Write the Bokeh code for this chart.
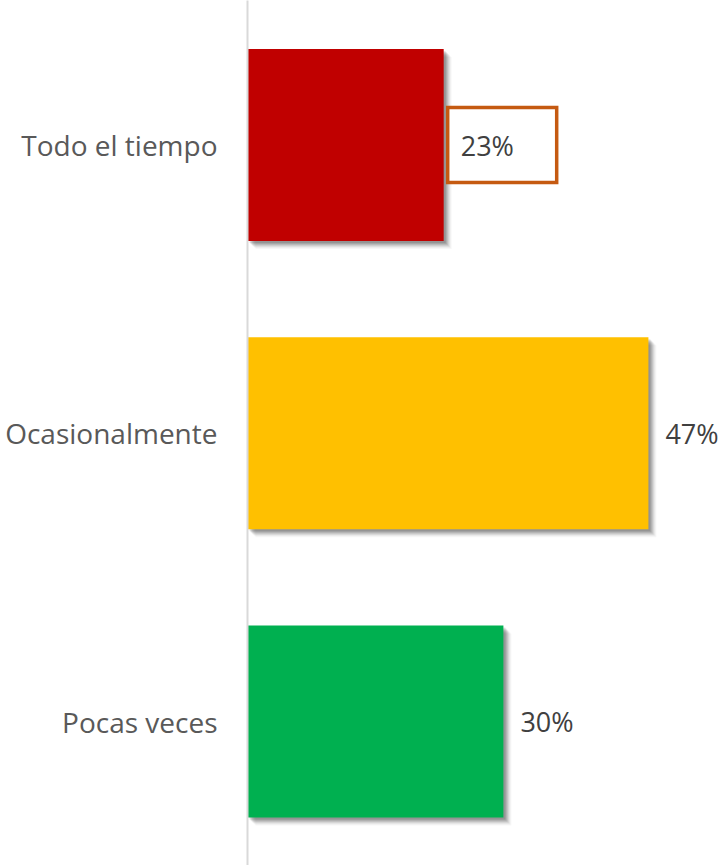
from bokeh.plotting import figure
from bokeh.models import FixedTicker, Range1d, ColumnDataSource
from bokeh.embed import file_html
from bokeh.resources import INLINE
from bokeh.core.properties import value

categories = ["Todo el tiempo", "Ocasionalmente", "Pocas veces"]
values = [23, 47, 30]
colors = ["#C00000", "#FFC000", "#00B050"]
labels = ["23%", "47%", "30%"]

W, H = 723, 865
LEFT = 247
PX_PER_UNIT_X = 8.53
PX_PER_UNIT_Y = 288.25

n = len(categories)
ypos = [n - 1 - i for i in range(n)]

x_end = (W - LEFT) / PX_PER_UNIT_X
y_start = -144.0 / PX_PER_UNIT_Y
y_end = y_start + H / PX_PER_UNIT_Y

p = figure(width=W, height=H, output_backend="svg", toolbar_location=None,
           x_range=Range1d(0, x_end), y_range=Range1d(y_start, y_end),
           x_axis_location=None, min_border_left=LEFT, min_border_right=0,
           min_border_top=0, min_border_bottom=0)
p.outline_line_color = None
p.grid.visible = False
p.background_fill_color = "white"
p.border_fill_color = "white"

bar_h = 192.0 / PX_PER_UNIT_Y

# soft shadows
for d, a in [(2, 0.10), (3, 0.10), (4, 0.09), (5, 0.08), (6, 0.06), (7, 0.04), (8, 0.03)]:
    dx = d / PX_PER_UNIT_X
    dy = d / PX_PER_UNIT_Y
    p.quad(left=[dx] * n, right=[v + dx for v in values],
           top=[y + bar_h / 2 - dy for y in ypos],
           bottom=[y - bar_h / 2 - dy for y in ypos],
           fill_color="#000000", fill_alpha=a, line_color=None)

src = ColumnDataSource(dict(y=ypos, v=values, c=colors, lab=labels))
p.hbar(y="y", left=0, right="v", height=bar_h, fill_color="c", line_color=None, source=src)

# box around first label
box_cx = values[0] + 58.5 / PX_PER_UNIT_X
p.rect(x=[box_cx], y=[ypos[0]], width=109, height=75, width_units="screen",
       height_units="screen", fill_color="white", line_color="#C55A11", line_width=3.5,
       line_join="miter")

p.text(x="v", y="y", text="lab", source=src, x_offset=17, text_align="left",
       text_baseline="middle", text_font=value("Open Sans"), text_font_size="27px",
       text_color="#404040")

ax = p.yaxis[0]
ax.ticker = FixedTicker(ticks=ypos)
ax.major_label_overrides = {y: c for y, c in zip(ypos, categories)}
ax.major_tick_line_color = None
ax.minor_tick_line_color = None
ax.axis_line_color = "#D9D9D9"
ax.axis_line_width = 2
ax.major_label_text_font = "Open Sans"
ax.major_label_text_font_size = "28px"
ax.major_label_text_color = "#595959"
ax.major_label_standoff = 24

open("out.html", "w").write(file_html(p, INLINE))
